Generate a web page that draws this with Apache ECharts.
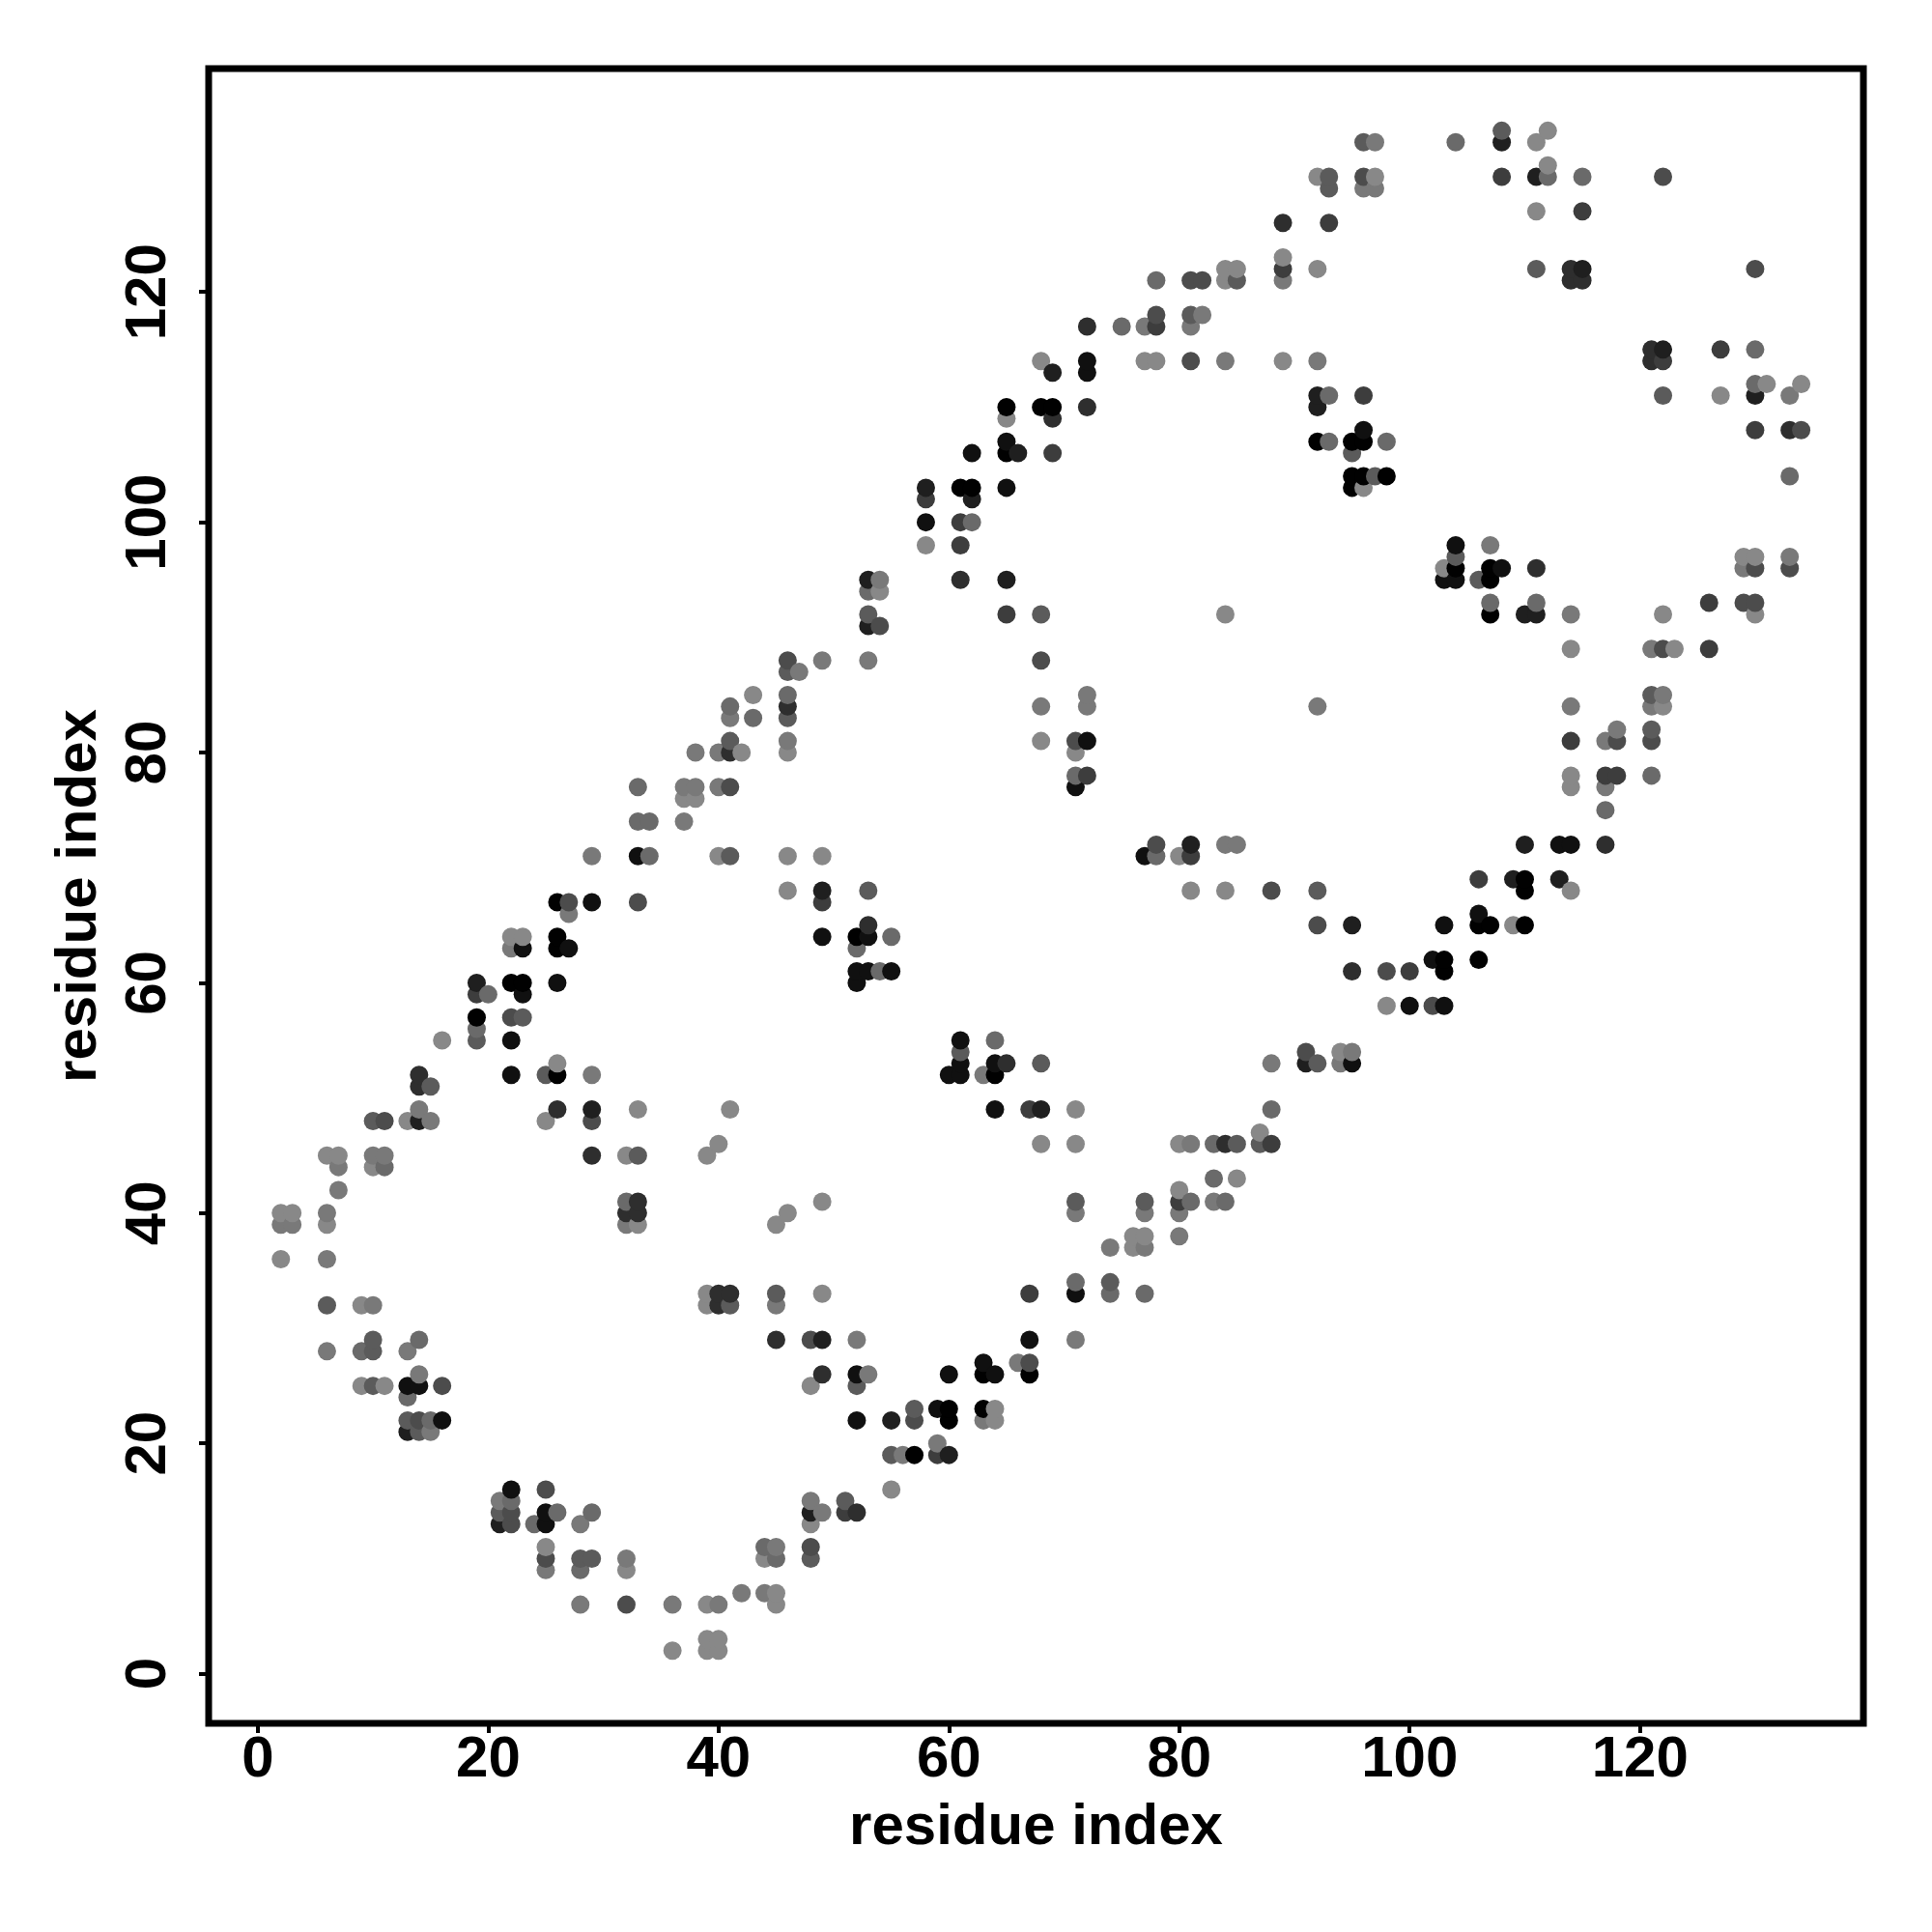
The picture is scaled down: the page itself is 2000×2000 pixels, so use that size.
<!DOCTYPE html>
<html>
<head>
<meta charset="utf-8">
<style>html,body{margin:0;padding:0;background:#fff}#c{width:2000px;height:2000px}</style>
<script src="https://cdn.jsdelivr.net/npm/echarts@6/dist/echarts.min.js"></script>
</head>
<body>
<div id="c"></div>
<script>
const tickValues = [0, 20, 40, 60, 80, 100, 120];
const axisName = 'residue index';
// contact pairs [residue i, residue j], grouped by strength (0 weakest .. 9 strongest)
const strength0 = [[10,44],[6,45],[7,45],[2,40],[3,40],[6,39],[2,36],[9,32],[9,25],[11,25],[25,11],[32,9],[39,6],[45,7],[45,6],[44,10],[39,3],[40,3],[39,2],[40,2],[36,2],[33,39],[32,45],[39,45],[45,39],[46,40],[39,33],[39,32],[43,85],[46,80],[42,80],[37,76],[38,76],[40,71],[46,71],[49,71],[46,68],[22,64],[23,64],[16,55],[26,53],[13,48],[25,48],[33,49],[41,49],[40,46],[49,41],[68,46],[71,46],[71,49],[80,46],[87,47],[85,43],[80,42],[76,38],[77,38],[76,37],[49,33],[48,25],[94,54],[64,23],[64,22],[55,16],[48,13],[92,130],[89,123],[92,122],[84,122],[85,122],[84,121],[68,114],[77,114],[78,114],[89,114],[65,109],[96,103],[58,98],[54,94],[84,92],[97,130],[112,134],[111,133],[112,131],[111,127],[131,112],[134,112],[127,111],[103,96],[122,92],[130,92],[129,97],[130,97],[114,89],[123,89],[122,84],[114,78],[114,77],[114,68],[84,68],[81,68],[80,71],[109,65],[98,58],[68,81],[71,80]];
const strength1 = [[7,44],[10,45],[11,45],[7,42],[2,39],[3,39],[6,40],[6,36],[10,32],[6,28],[13,28],[14,26],[15,21],[21,15],[28,13],[25,9],[32,10],[28,6],[36,6],[40,6],[42,7],[44,7],[45,11],[32,39],[45,32],[49,88],[47,87],[41,83],[46,81],[38,80],[40,80],[37,77],[38,77],[40,77],[37,74],[29,71],[53,88],[27,66],[63,52],[29,52],[14,49],[15,48],[22,63],[71,40],[77,40],[80,40],[80,38],[74,37],[77,37],[81,46],[83,41],[88,53],[95,54],[94,53],[66,27],[52,29],[71,29],[53,26],[63,22],[56,19],[59,20],[48,15],[49,14],[96,129],[97,129],[89,121],[97,133],[82,118],[81,117],[77,117],[84,114],[92,114],[72,85],[54,95],[107,98],[114,92],[121,89],[133,111],[133,97],[129,96],[114,84],[92,84],[117,81],[118,82],[117,77],[122,85],[121,84],[85,72],[84,72],[68,84],[72,84]];
const strength2 = [[11,44],[9,28],[14,29],[13,24],[15,22],[22,15],[26,14],[29,14],[24,13],[28,9],[44,11],[45,10],[32,41],[41,84],[43,83],[46,85],[33,77],[33,74],[34,74],[34,71],[55,64],[52,63],[19,56],[20,59],[54,61],[64,55],[83,43],[81,41],[84,41],[83,46],[88,49],[71,34],[74,33],[77,33],[78,121],[75,117],[93,111],[93,107],[98,107],[62,100],[53,94],[104,133],[112,130],[115,130],[130,115],[130,112],[107,93],[111,93],[133,104],[117,75],[121,78],[71,78],[78,71]];
const strength3 = [[6,32],[10,29],[10,28],[10,25],[13,22],[14,21],[21,14],[28,10],[29,10],[33,45],[41,32],[45,33],[41,81],[46,83],[46,87],[53,68],[41,71],[15,51],[25,52],[19,55],[23,57],[10,48],[61,54],[68,53],[85,46],[87,46],[92,53],[71,41],[77,41],[74,34],[52,25],[55,19],[57,23],[48,10],[51,15],[96,133],[108,134],[93,130],[93,129],[85,121],[81,118],[95,106],[97,104],[53,92],[68,92],[111,122],[106,95],[104,97],[122,111],[121,82],[92,68],[121,85]];
const strength4 = [[16,25],[14,22],[25,16],[22,14],[25,10],[22,13],[32,6],[46,88],[41,77],[27,67],[33,67],[29,48],[22,57],[11,48],[91,54],[67,27],[48,29],[48,11],[57,22],[96,130],[81,121],[82,121],[78,118],[81,114],[68,88],[54,91],[122,130],[130,122],[134,108],[129,93],[130,93],[130,96],[133,96],[122,89],[88,68],[92,65],[98,61],[102,58],[118,81],[121,81],[78,72],[71,81]];
const strength5 = [[49,67],[19,59],[67,49],[67,33],[88,46],[80,41],[59,19],[51,14],[78,117],[89,122],[93,126],[61,100],[58,102],[69,106],[65,92],[61,98],[96,111],[108,130],[115,127],[122,114],[127,115],[130,108],[126,93],[126,89],[117,78],[118,78],[81,71],[106,69],[100,61],[114,81],[72,78]];
const strength6 = [[33,41],[32,40],[33,40],[40,33],[41,33],[40,32],[45,29],[29,45],[46,84],[41,80],[53,65],[14,52],[14,51],[26,49],[65,53],[52,14],[95,61],[84,46],[49,26],[89,126],[72,117],[69,109],[72,110],[61,95],[111,96],[133,108],[114,122],[114,121],[115,121],[121,115],[121,114],[117,72]];
const strength7 = [[13,21],[21,13],[49,68],[19,60],[29,49],[14,48],[68,49],[55,22],[60,19],[48,14],[91,53],[49,29],[92,111],[92,110],[69,113],[62,102],[58,103],[53,95],[53,91],[65,95],[66,106],[115,122],[122,115],[130,111],[111,130],[108,133],[110,92],[111,92],[110,72],[113,69],[109,69],[95,65],[81,72]];
const strength8 = [[13,25],[14,25],[16,22],[22,16],[25,14],[25,13],[33,71],[29,67],[23,63],[27,63],[26,60],[23,59],[22,55],[22,52],[52,61],[53,61],[55,61],[52,60],[49,64],[53,64],[61,55],[61,53],[60,52],[61,52],[64,49],[64,53],[71,33],[95,53],[63,27],[64,26],[67,29],[60,26],[52,26],[52,22],[59,23],[72,114],[72,113],[62,106],[65,107],[96,108],[65,103],[58,100],[104,98],[103,95],[104,95],[108,96],[113,72],[114,72],[106,66],[103,65],[102,62],[100,58],[103,58],[72,81],[71,77],[77,71]];
const strength9 = [[26,67],[26,64],[26,63],[52,64],[22,60],[23,60],[19,57],[26,52],[64,52],[63,23],[60,23],[60,22],[57,19],[63,26],[67,26],[65,110],[68,110],[69,110],[65,106],[92,107],[95,107],[96,107],[95,104],[96,104],[98,104],[95,103],[61,103],[62,103],[104,96],[107,96],[107,95],[107,92],[110,69],[110,68],[106,65],[107,65],[110,65],[103,62],[103,61],[106,62]];

const byStrength = [strength0,strength1,strength2,strength3,strength4,strength5,strength6,strength7,strength8,strength9];
const rows = [];
byStrength.forEach((list, s) => list.forEach(p => rows.push([p[0], p[1], s])));
rows.sort((a, b) => a[0] - b[0] || a[1] - b[1]);

const font = '"Liberation Sans", Arial, sans-serif';
const chart = echarts.init(document.getElementById('c'), null, {renderer:'canvas'});
const axisCommon = {
  type:'value', name:axisName, nameLocation:'middle',
  nameTextStyle:{fontFamily:font,fontWeight:'bold',fontSize:60,color:'#000'},
  splitLine:{show:false},
  axisLine:{show:false,onZero:false},
  axisTick:{show:true,length:10,lineStyle:{color:'#000',width:4},customValues:tickValues}
};
chart.setOption({
  animation:false,
  backgroundColor:'#fff',
  grid:{show:true,left:216,top:71,width:1713,height:1713,borderColor:'#000',borderWidth:7,backgroundColor:'#fff'},
  xAxis:Object.assign({},axisCommon,{min:-4.27,max:139.4,nameGap:78,
    axisLabel:{margin:8,customValues:tickValues,fontFamily:font,fontWeight:'bold',fontSize:60,color:'#000'}}),
  yAxis:Object.assign({},axisCommon,{min:-4.31,max:139.4,nameGap:104,
    axisLabel:{margin:32,rotate:90,customValues:tickValues,fontFamily:font,fontWeight:'bold',fontSize:60,color:'#000'}}),
  series:[{
    type:'scatter',
    data:rows,
    encode:{x:0,y:1},
    symbol:'circle',
    symbolSize:19,
    clip:false,
    large:false,
    itemStyle:{opacity:1,color:p=>{const g=Math.round(136-p.value[2]*15);return 'rgb('+g+','+g+','+g+')';}}
  }]
});
</script>
</body>
</html>
